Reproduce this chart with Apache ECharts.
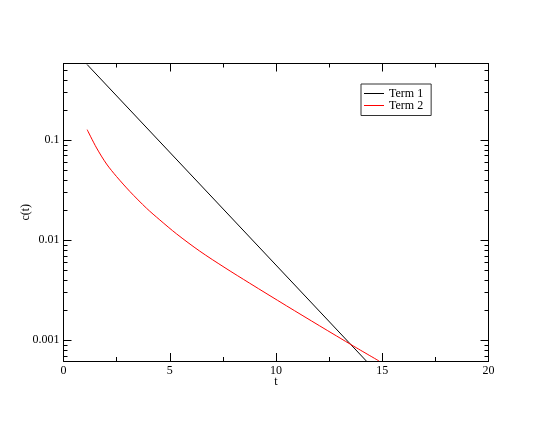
<!DOCTYPE html>
<html>
<head>
<meta charset="utf-8">
<script src="https://cdn.jsdelivr.net/npm/echarts@6/dist/echarts.min.js"></script>
<style>
  html, body { margin: 0; padding: 0; background: #fff; }
  #chart { width: 550px; height: 425px; }
</style>
</head>
<body>
<div id="chart"></div>
<script>
// values (t, c(t))
const term1 = [[1.11, 0.567], [14.25, 0.00062]]
const term2 = [
  [1.114, 0.1267], [1.556, 0.0832], [2.026, 0.0575], [2.496, 0.0431],
  [3.122, 0.0306], [3.907, 0.0208], [4.532, 0.0159], [5.32, 0.01153],
  [6.41, 0.00776], [7.60, 0.00529], [8.76, 0.00371], [10.49, 0.002208],
  [12.05, 0.001393], [13.65, 0.000873], [14.85, 0.00062]
]
const yMinorTicks = [
  0.0007, 0.0008, 0.0009,
  0.002, 0.003, 0.004, 0.005, 0.006, 0.007, 0.008, 0.009,
  0.02, 0.03, 0.04, 0.05, 0.06, 0.07, 0.08, 0.09,
  0.2, 0.3, 0.4, 0.5
]
const yLabels = ['0.001', '0.01', '0.1']

const FONT = 'Liberation Serif'
const chart = echarts.init(document.getElementById('chart'))

const xCommon = {
  type: 'value', min: 0, max: 20, interval: 5,
  axisLine: { show: true, onZero: false, lineStyle: { color: '#000', width: 1 } },
  axisTick: { show: true, inside: true, length: 8, lineStyle: { color: '#000' } },
  minorTick: { show: true, splitNumber: 2, length: 4, lineStyle: { color: '#000' } },
  splitLine: { show: false }
}
const yCommon = {
  type: 'log', logBase: 10, min: 0.00062, max: 0.58,
  axisLine: { show: true, onZero: false, lineStyle: { color: '#000', width: 1 } },
  axisTick: { show: true, inside: true, length: 8, lineStyle: { color: '#000' } },
  splitLine: { show: false }
}

chart.setOption({
  backgroundColor: '#fff',
  animation: false,
  textStyle: { fontFamily: FONT },
  grid: { left: 63.5, right: 61.5, top: 63.5, bottom: 64 },
  legend: {
    orient: 'vertical',
    left: 361, top: 84,
    padding: [3.5, 8, 4, 3],
    icon: 'rect',
    itemWidth: 20, itemHeight: 1, itemGap: 0,
    borderColor: '#333', borderWidth: 1,
    textStyle: { fontFamily: FONT, fontSize: 12, color: '#000', lineHeight: 11 },
    data: ['Term 1', 'Term 2']
  },
  xAxis: [
    Object.assign({}, xCommon, {
      position: 'bottom',
      name: 't', nameLocation: 'middle', nameGap: 15, nameMoveOverlap: false,
      nameTextStyle: { fontFamily: FONT, fontSize: 12, color: '#000' },
      axisLabel: { fontFamily: FONT, fontSize: 12, color: '#000', margin: 4 }
    }),
    Object.assign({}, xCommon, { position: 'top', axisLabel: { show: false } })
  ],
  yAxis: [
    Object.assign({}, yCommon, {
      position: 'left',
      name: 'c(t)', nameLocation: 'middle', nameGap: 32, nameMoveOverlap: false,
      nameTextStyle: { fontFamily: FONT, fontSize: 12, color: '#000' },
      axisLabel: {
        fontFamily: FONT, fontSize: 12, color: '#000', margin: 4,
        showMinLabel: false, showMaxLabel: false,
        formatter: function (v) {
          const s = yLabels.find(l => Math.abs(Number(l) - v) / v < 1e-6)
          return s || ''
        }
      }
    }),
    Object.assign({}, yCommon, { position: 'right', axisLabel: { show: false } })
  ],
  series: [
    {
      name: 'Term 1', type: 'line', data: term1,
      symbol: 'none', showSymbol: false, clip: true,
      lineStyle: { color: '#000', width: 1 }, itemStyle: { color: '#000' }
    },
    {
      name: 'Term 2', type: 'line', data: term2,
      symbol: 'none', showSymbol: false, clip: true,
      smooth: 0.3,
      lineStyle: { color: '#ff0000', width: 1 }, itemStyle: { color: '#ff0000' }
    },
    {
      // minor ticks of the log axis at 2..9 of each decade, both sides
      type: 'custom', silent: true,
      xAxisIndex: 0, yAxisIndex: 0,
      data: yMinorTicks.map(v => [0, v]),
      renderItem: function (params, api) {
        const l = api.coord([0, api.value(1)])
        const r = api.coord([20, api.value(1)])
        const y = Math.round(l[1]) + 0.5
        return {
          type: 'group',
          children: [
            { type: 'line', shape: { x1: l[0], y1: y, x2: l[0] + 4, y2: y }, style: { stroke: '#000', lineWidth: 1 } },
            { type: 'line', shape: { x1: r[0] - 4, y1: y, x2: r[0], y2: y }, style: { stroke: '#000', lineWidth: 1 } }
          ]
        }
      }
    }
  ]
})

window.addEventListener('resize', () => chart.resize())
</script>
</body>
</html>
